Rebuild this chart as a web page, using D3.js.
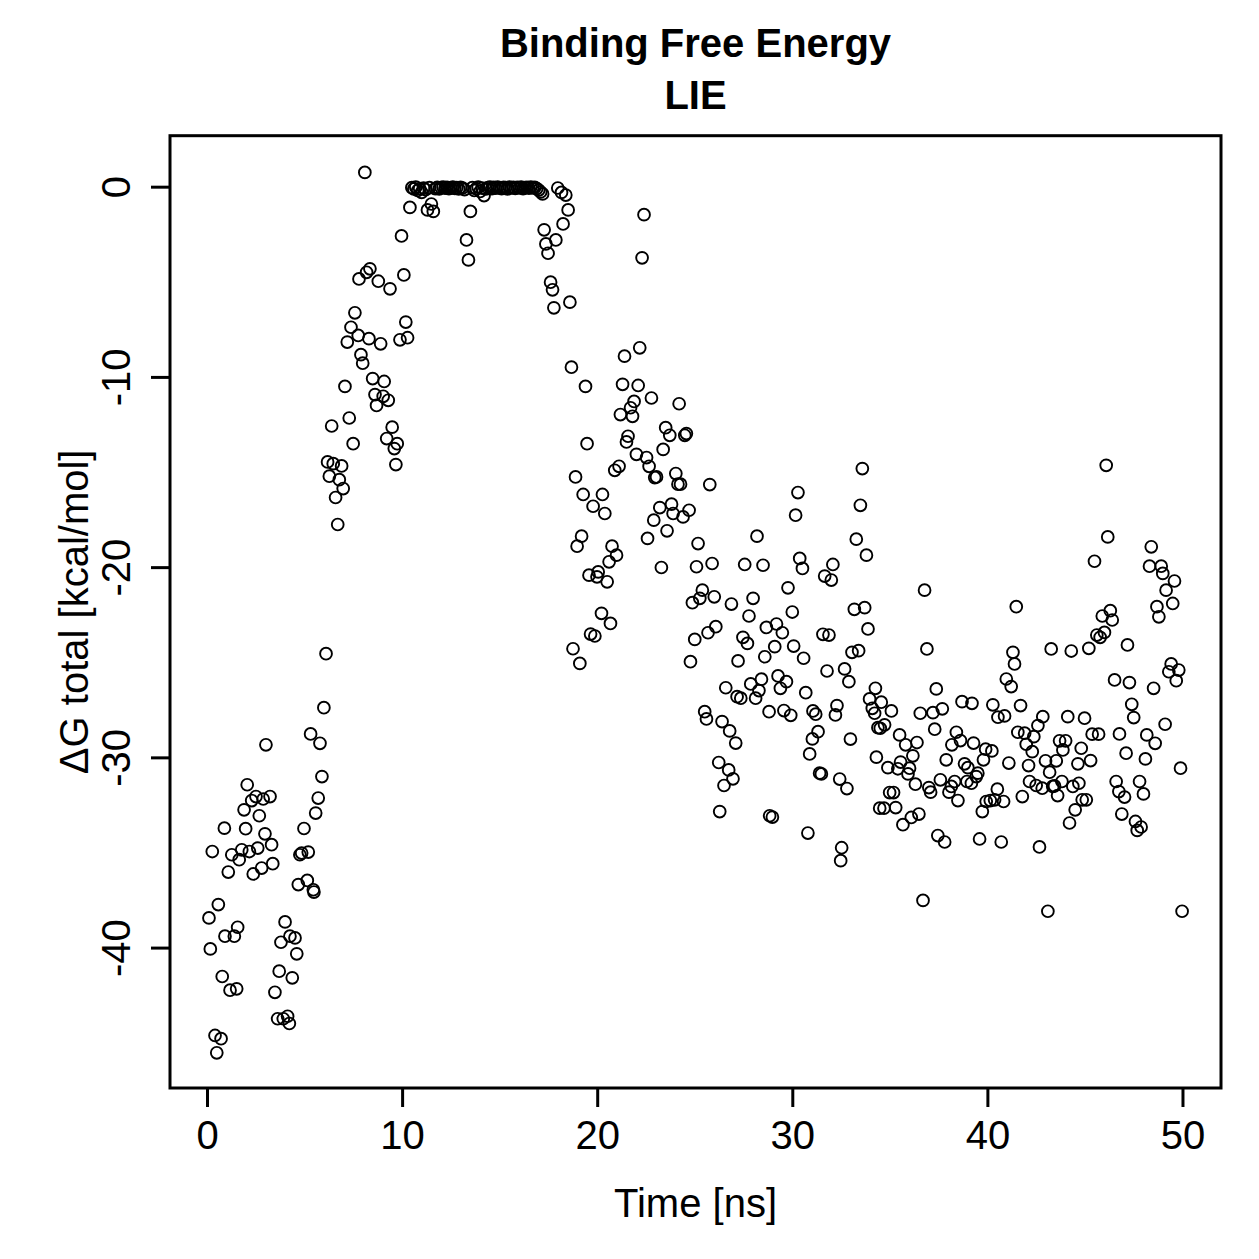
<!DOCTYPE html>
<html>
<head>
<meta charset="utf-8">
<script src="https://cdn.jsdelivr.net/npm/d3@7"></script>
<style>
	body { margin: 0; background: #fff; }
	svg text { font-family: "Liberation Sans", Arial, Helvetica, sans-serif; fill: #000; }
</style>
</head>
<body>
<div class="container"></div>
<script>
// time [ns], dG total [kcal/mol]
var riseSeg = [
	[0.10,-38.44],[0.17,-40.07],[0.27,-34.95],[0.41,-44.62],[0.50,-45.53],[0.58,-37.74],[0.72,-44.79],[0.78,-41.52],
	[0.89,-33.72],[0.92,-39.40],[1.09,-36.03],[1.18,-42.24],[1.27,-35.12],[1.40,-39.40],[1.52,-42.17],[1.57,-38.93],
	[1.65,-35.38],[1.78,-34.86],[1.90,-32.76],[1.98,-33.75],[2.06,-31.44],[2.17,-34.95],[2.29,-32.27],[2.37,-36.13],
	[2.51,-32.06],[2.60,-34.77],[2.68,-33.07],[2.80,-35.82],[2.88,-32.19],[2.97,-34.02],[3.02,-29.34],[3.23,-32.06],
	[3.31,-34.59],[3.37,-35.59],[3.48,-42.35],[3.62,-43.74],[3.70,-41.24],[3.79,-39.72],[3.91,-43.74],[4.00,-38.65],
	[4.13,-43.61],[4.22,-43.99],[4.25,-39.40],[4.37,-41.59],[4.51,-39.49],[4.60,-40.33],[4.68,-36.69],[4.76,-35.12],
	[4.85,-35.03],[4.97,-33.74],[5.14,-36.47],[5.19,-34.98],[5.31,-28.77],[5.45,-36.96],[5.48,-37.08],[5.57,-32.93],
	[5.70,-32.14],[5.79,-29.26],[5.89,-31.01],[5.99,-27.39],[6.10,-24.55],[6.18,-14.47],[6.27,-15.22],[6.39,-12.58],
	[6.47,-14.56],[6.59,-16.34],[6.70,-17.76],[6.78,-15.40],[6.90,-14.68],[6.98,-15.87],[7.07,-10.50],[7.19,-8.17],
	[7.29,-12.16],[7.38,-7.39],[7.49,-13.51],[7.58,-6.63],[7.75,-7.82],[7.79,-4.85],[7.89,-8.83],[7.98,-9.28],
	[8.09,0.75],[8.18,-4.50],[8.30,-7.99],[8.35,-4.32],[8.49,-10.09],[8.61,-10.93],[8.69,-11.50],[8.78,-4.97],
	[8.90,-8.26],[9.03,-11.02],[9.08,-10.24],[9.21,-13.24],[9.29,-11.23],[9.38,-5.37],[9.49,-12.64],[9.60,-13.77],
	[9.68,-14.61],[9.75,-13.51],[9.89,-8.05],[9.97,-2.59],[10.09,-4.64],[10.19,-7.12],[10.28,-7.94],[10.40,-1.09]
];

var plateauSeg = [
	[10.5,-0.05],[10.6,-0.12],[10.7,-0.02],[10.8,-0.20],[10.9,-0.10],[11.0,-0.30],[11.1,-0.08],[11.2,-0.15],
	[11.3,-1.22],[11.4,-0.05],[11.5,-0.91],[11.6,-1.30],[11.7,-0.10],[11.8,-0.03],[11.9,-0.12],[12.0,-0.05],
	[12.1,-0.02],[12.2,-0.08],[12.3,-0.04],[12.4,-0.10],[12.5,-0.06],[12.6,-0.02],[12.7,-0.09],[12.8,-0.05],
	[12.9,-0.12],[13.0,-0.03],[13.1,-0.07],[13.2,-0.15],[13.3,-2.80],[13.4,-3.85],[13.5,-1.30],[13.6,-0.05],
	[13.7,-0.20],[13.8,-0.10],[13.9,-0.02],[14.0,-0.25],[14.1,-0.08],[14.2,-0.47],[14.3,-0.12],[14.4,-0.05],
	[14.5,-0.02],[14.6,-0.10],[14.7,-0.04],[14.8,-0.08],[14.9,-0.02],[15.0,-0.06],[15.1,-0.10],[15.2,-0.03],
	[15.3,-0.05],[15.4,-0.12],[15.5,-0.02],[15.6,-0.07],[15.7,-0.04],[15.8,-0.09],[15.9,-0.03],[16.0,-0.06],
	[16.1,-0.02],[16.2,-0.10],[16.3,-0.05],[16.4,-0.03],[16.5,-0.08],[16.6,-0.02],[16.7,-0.06],[16.8,-0.04],
	[16.9,-0.10],[17.0,-0.18],[17.1,-0.28],[17.2,-0.38]
];

var dropSeg = [
	[17.28,-2.27],[17.37,-3.01],[17.48,-3.50],[17.61,-5.02],[17.71,-5.42],[17.78,-6.37],[17.88,-2.80],[17.98,-0.07],
	[18.17,-0.30],[18.25,-1.96],[18.39,-0.44],[18.51,-1.22],[18.60,-6.07],[18.68,-9.49],[18.76,-24.29],[18.89,-15.26],
	[18.97,-18.90],[19.11,-25.06],[19.20,-18.37],[19.28,-16.18],[19.40,-10.50],[19.48,-13.51],[19.58,-20.42],[19.66,-23.52],
	[19.79,-16.80],[19.88,-23.62],[19.99,-20.51],[20.05,-20.25],[20.22,-22.43],[20.27,-16.18],[20.39,-17.18],[20.51,-20.77],
	[20.61,-19.72],[20.68,-22.96],[20.76,-18.90],[20.90,-14.91],[20.99,-19.37],[21.12,-14.70],[21.19,-11.98],[21.30,-10.39],
	[21.40,-8.91],[21.50,-13.42],[21.58,-13.12],[21.71,-11.62],[21.81,-12.07],[21.89,-11.29],[22.01,-14.07],[22.10,-10.45],
	[22.18,-8.47],[22.30,-3.74],[22.40,-1.47],[22.53,-14.24],[22.58,-18.49],[22.66,-14.70],[22.78,-11.11],[22.90,-17.53],
	[22.95,-15.29],[23.04,-15.26],[23.21,-16.87],[23.29,-20.02],[23.38,-13.81],[23.51,-12.67],[23.58,-18.09],[23.72,-13.07],
	[23.81,-16.69],[23.89,-17.18],[24.03,-15.08],[24.14,-15.64],[24.20,-11.41],[24.27,-15.64],[24.40,-17.36],[24.49,-13.07],
	[24.57,-12.98],[24.71,-17.01],[24.78,-24.97],[24.88,-21.87],[25.00,-23.80],[25.09,-19.98],[25.17,-18.76],[25.26,-21.64],
	[25.39,-21.21],[25.51,-27.60],[25.60,-27.98],[25.68,-23.45],[25.77,-15.66],[25.89,-19.81],[26.00,-21.56]
];

var tailSeg = [
	[26.08,-23.13],[26.23,-30.27],[26.28,-32.85],[26.40,-28.12],[26.50,-31.48],[26.59,-26.34],[26.74,-30.66],[26.79,-28.61],
	[26.88,-21.94],[26.96,-31.13],[27.10,-29.25],[27.17,-26.81],[27.22,-24.93],[27.36,-26.89],[27.47,-23.69],[27.56,-19.86],
	[27.70,-24.01],[27.78,-22.57],[27.87,-26.14],[27.99,-21.64],[28.12,-26.89],[28.19,-18.37],[28.29,-26.49],[28.42,-25.89],
	[28.50,-19.90],[28.59,-24.71],[28.67,-23.17],[28.81,-27.60],[28.84,-33.07],[28.98,-33.14],[29.10,-24.18],[29.19,-22.99],
	[29.27,-25.72],[29.39,-26.37],[29.49,-23.45],[29.57,-27.54],[29.70,-26.02],[29.78,-21.09],[29.92,-27.79],[30.00,-22.36],
	[30.07,-24.15],[30.17,-17.27],[30.29,-16.08],[30.38,-19.54],[30.52,-20.07],[30.58,-24.79],[30.69,-26.60],[30.80,-33.98],
	[30.89,-29.82],[31.03,-29.03],[31.06,-27.56],[31.20,-27.73],[31.32,-28.65],[31.40,-30.83],[31.49,-30.87],[31.57,-23.53],
	[31.66,-20.47],[31.78,-25.46],[31.88,-23.57],[32.00,-20.68],[32.08,-19.86],[32.21,-27.77],[32.29,-27.28],[32.43,-31.14],
	[32.48,-35.43],[32.53,-34.75],[32.68,-25.35],[32.80,-31.64],[32.90,-26.02],[32.98,-29.04],[33.06,-24.48],[33.18,-22.22],
	[33.28,-18.53],[33.40,-24.39],[33.49,-16.75],[33.59,-14.82],[33.71,-22.13],[33.80,-19.37],[33.88,-23.25],[33.96,-26.93],
	[34.10,-27.42],[34.22,-27.68],[34.26,-26.37],[34.31,-29.99],[34.39,-28.44],[34.51,-28.47],[34.48,-32.67],[34.56,-27.10],
	[34.70,-32.67],[34.73,-28.29],[34.90,-30.54],[34.99,-31.85],[35.08,-27.56],[35.19,-31.85],[35.30,-32.64],[35.41,-30.60],
	[35.50,-28.82],[35.55,-30.25],[35.67,-33.54],[35.81,-29.34],[35.93,-30.87],[36.01,-30.57],[36.10,-33.16],[36.18,-29.92],
	[36.31,-31.41],[36.39,-29.22],[36.49,-32.98],[36.56,-27.68],[36.70,-37.52],[36.78,-21.21],[36.90,-24.30],[37.00,-31.59],
	[37.09,-31.83],[37.21,-27.65],[37.30,-28.52],[37.38,-26.40],[37.46,-34.11],[37.59,-31.18],[37.69,-27.45],[37.81,-34.45],
	[37.89,-30.13],[38.03,-31.83],[38.15,-31.53],[38.18,-29.34],[38.32,-31.27],[38.41,-28.68],[38.49,-32.27],[38.62,-29.12],
	[38.70,-27.07],[38.83,-30.34],[38.95,-31.27],[39.00,-30.54],[39.18,-31.36],[39.21,-27.16],[39.29,-29.25],[39.43,-31.01],
	[39.51,-30.83],[39.60,-34.29],[39.74,-32.85],[39.80,-30.13],[39.91,-29.57],[39.94,-32.32],[40.15,-32.27],[40.23,-29.66],
	[40.28,-27.24],[40.37,-32.23],[40.51,-31.67],[40.54,-27.89],[40.71,-34.45],[40.83,-32.32],[40.88,-27.82],[40.97,-25.88],
	[41.10,-30.30],[41.22,-26.28],[41.31,-24.48],[41.39,-25.09],[41.48,-22.08],[41.56,-28.68],[41.70,-27.28],[41.79,-32.06],
	[41.91,-28.73],[41.99,-29.31],[42.11,-30.43],[42.16,-31.27],[42.30,-29.70],[42.38,-28.91],[42.50,-31.48],[42.59,-28.33],
	[42.67,-34.71],[42.81,-31.62],[42.84,-27.86],[42.98,-30.18],[43.10,-38.09],[43.19,-30.78],[43.27,-24.30],[43.35,-31.53],
	[43.44,-31.50],[43.53,-30.18],[43.60,-32.01],[43.70,-29.13],[43.82,-31.27],[43.87,-29.61],[44.01,-29.13],[44.12,-27.86],
	[44.21,-33.45],[44.30,-24.41],[44.38,-31.53],[44.50,-32.76],[44.64,-30.34],[44.69,-31.36],[44.81,-29.52],[44.86,-32.23],
	[44.98,-27.94],[45.07,-32.23],[45.20,-24.27],[45.29,-30.17],[45.37,-28.78],[45.49,-19.69],[45.61,-23.57],[45.70,-28.78],
	[45.78,-23.69],[45.89,-22.57],[46.00,-23.43],[46.09,-14.65],[46.17,-18.41],[46.30,-22.29],[46.40,-22.78],[46.52,-25.93],
	[46.60,-31.27],[46.74,-31.80],[46.77,-28.77],[46.89,-32.98],[47.03,-32.09],[47.11,-29.78],[47.18,-24.09],[47.28,-26.07],
	[47.40,-27.21],[47.50,-27.91],[47.59,-33.37],[47.68,-33.84],[47.80,-31.27],[47.88,-33.66],[48.00,-31.92],[48.10,-30.08],
	[48.17,-28.82],[48.31,-19.95],[48.40,-18.93],[48.52,-26.37],[48.60,-29.26],[48.69,-22.08],[48.79,-22.61],[48.91,-19.95],
	[48.99,-20.33],[49.11,-28.26],[49.16,-21.21],[49.30,-25.50],[49.42,-25.09],[49.50,-21.91],[49.59,-20.73],[49.68,-25.97],
	[49.81,-25.41],[49.90,-30.57],[49.98,-38.09]
];

var xTicks = [0, 10, 20, 30, 40, 50];
var yTicks = [0, -10, -20, -30, -40];
var titleLines = ['Binding Free Energy', 'LIE'];
var xLabel = 'Time [ns]';
var yLabel = '\u0394G total [kcal/mol]';

var lieChart = function() {

	function init() {
		var W = 1259, H = 1259;
		var box = {left: 170, right: 1221, top: 135.7, bottom: 1088};

		var svg = d3.select('.container').append('svg')
			.attr('width', W)
			.attr('height', H);

		var data = riseSeg.concat(plateauSeg, dropSeg, tailSeg);

		// R style: pad the data range by 4% on each side
		function padded(ext) {
			var d = (ext[1] - ext[0]) * 0.04;
			return [ext[0] - d, ext[1] + d];
		}

		// plotting region is a hair wider than the frame on the left in the original
		var x = d3.scaleLinear()
			.domain(padded([0, 50]))
			.range([box.left - 2, box.right + 0.5]);
		var y = d3.scaleLinear()
			.domain(padded(d3.extent(data, function(d) { return d[1]; })))
			.range([box.bottom, box.top + 1.5]);

		// points
		svg.append('g').selectAll('circle')
			.data(data).enter().append('circle')
			.attr('cx', function(d) { return x(d[0]); })
			.attr('cy', function(d) { return y(d[1]); })
			.attr('r', 5.9)
			.style('fill', 'none')
			.style('stroke', '#000')
			.style('stroke-width', 1.9);

		// frame
		svg.append('rect')
			.attr('x', box.left)
			.attr('y', box.top)
			.attr('width', box.right - box.left)
			.attr('height', box.bottom - box.top)
			.style('fill', 'none')
			.style('stroke', '#000')
			.style('stroke-width', 3);

		// x axis
		var xAxis = d3.axisBottom(x)
			.tickValues(xTicks)
			.tickSize(19)
			.tickFormat(function(d) { return String(d); });
		var gx = svg.append('g')
			.attr('transform', 'translate(0,' + box.bottom + ')')
			.call(xAxis);
		gx.select('.domain').remove();
		gx.selectAll('line').style('stroke', '#000').style('stroke-width', 3);
		gx.selectAll('text')
			.attr('y', 61)
			.attr('dy', null)
			.style('font-size', '40px');

		// y axis
		var yAxis = d3.axisLeft(y)
			.tickValues(yTicks)
			.tickSize(19)
			.tickFormat(function(d) { return String(d); });
		var gy = svg.append('g')
			.attr('transform', 'translate(' + box.left + ',0)')
			.call(yAxis);
		gy.select('.domain').remove();
		gy.selectAll('line').style('stroke', '#000').style('stroke-width', 3);
		gy.selectAll('text')
			.attr('x', null)
			.attr('dy', null)
			.attr('text-anchor', 'middle')
			.attr('transform', 'translate(-40,0) rotate(-90)')
			.style('font-size', '40px');

		// title
		var cx = (box.left + box.right) / 2;
		svg.selectAll('.title')
			.data(titleLines).enter().append('text')
			.attr('class', 'title')
			.attr('x', cx)
			.attr('y', function(d, i) { return 57 + i * 52; })
			.attr('text-anchor', 'middle')
			.style('font-size', '40px')
			.style('font-weight', 'bold')
			.text(function(d) { return d; });

		// axis labels
		svg.append('text')
			.attr('x', cx)
			.attr('y', 1217)
			.attr('text-anchor', 'middle')
			.style('font-size', '40px')
			.text(xLabel);

		svg.append('text')
			.attr('transform', 'translate(88,' + ((box.top + box.bottom) / 2) + ') rotate(-90)')
			.attr('text-anchor', 'middle')
			.style('font-size', '40px')
			.text(yLabel);
	}
	return Object.freeze({init: init});
};

var chart = lieChart();
chart.init();
</script>
</body>
</html>
